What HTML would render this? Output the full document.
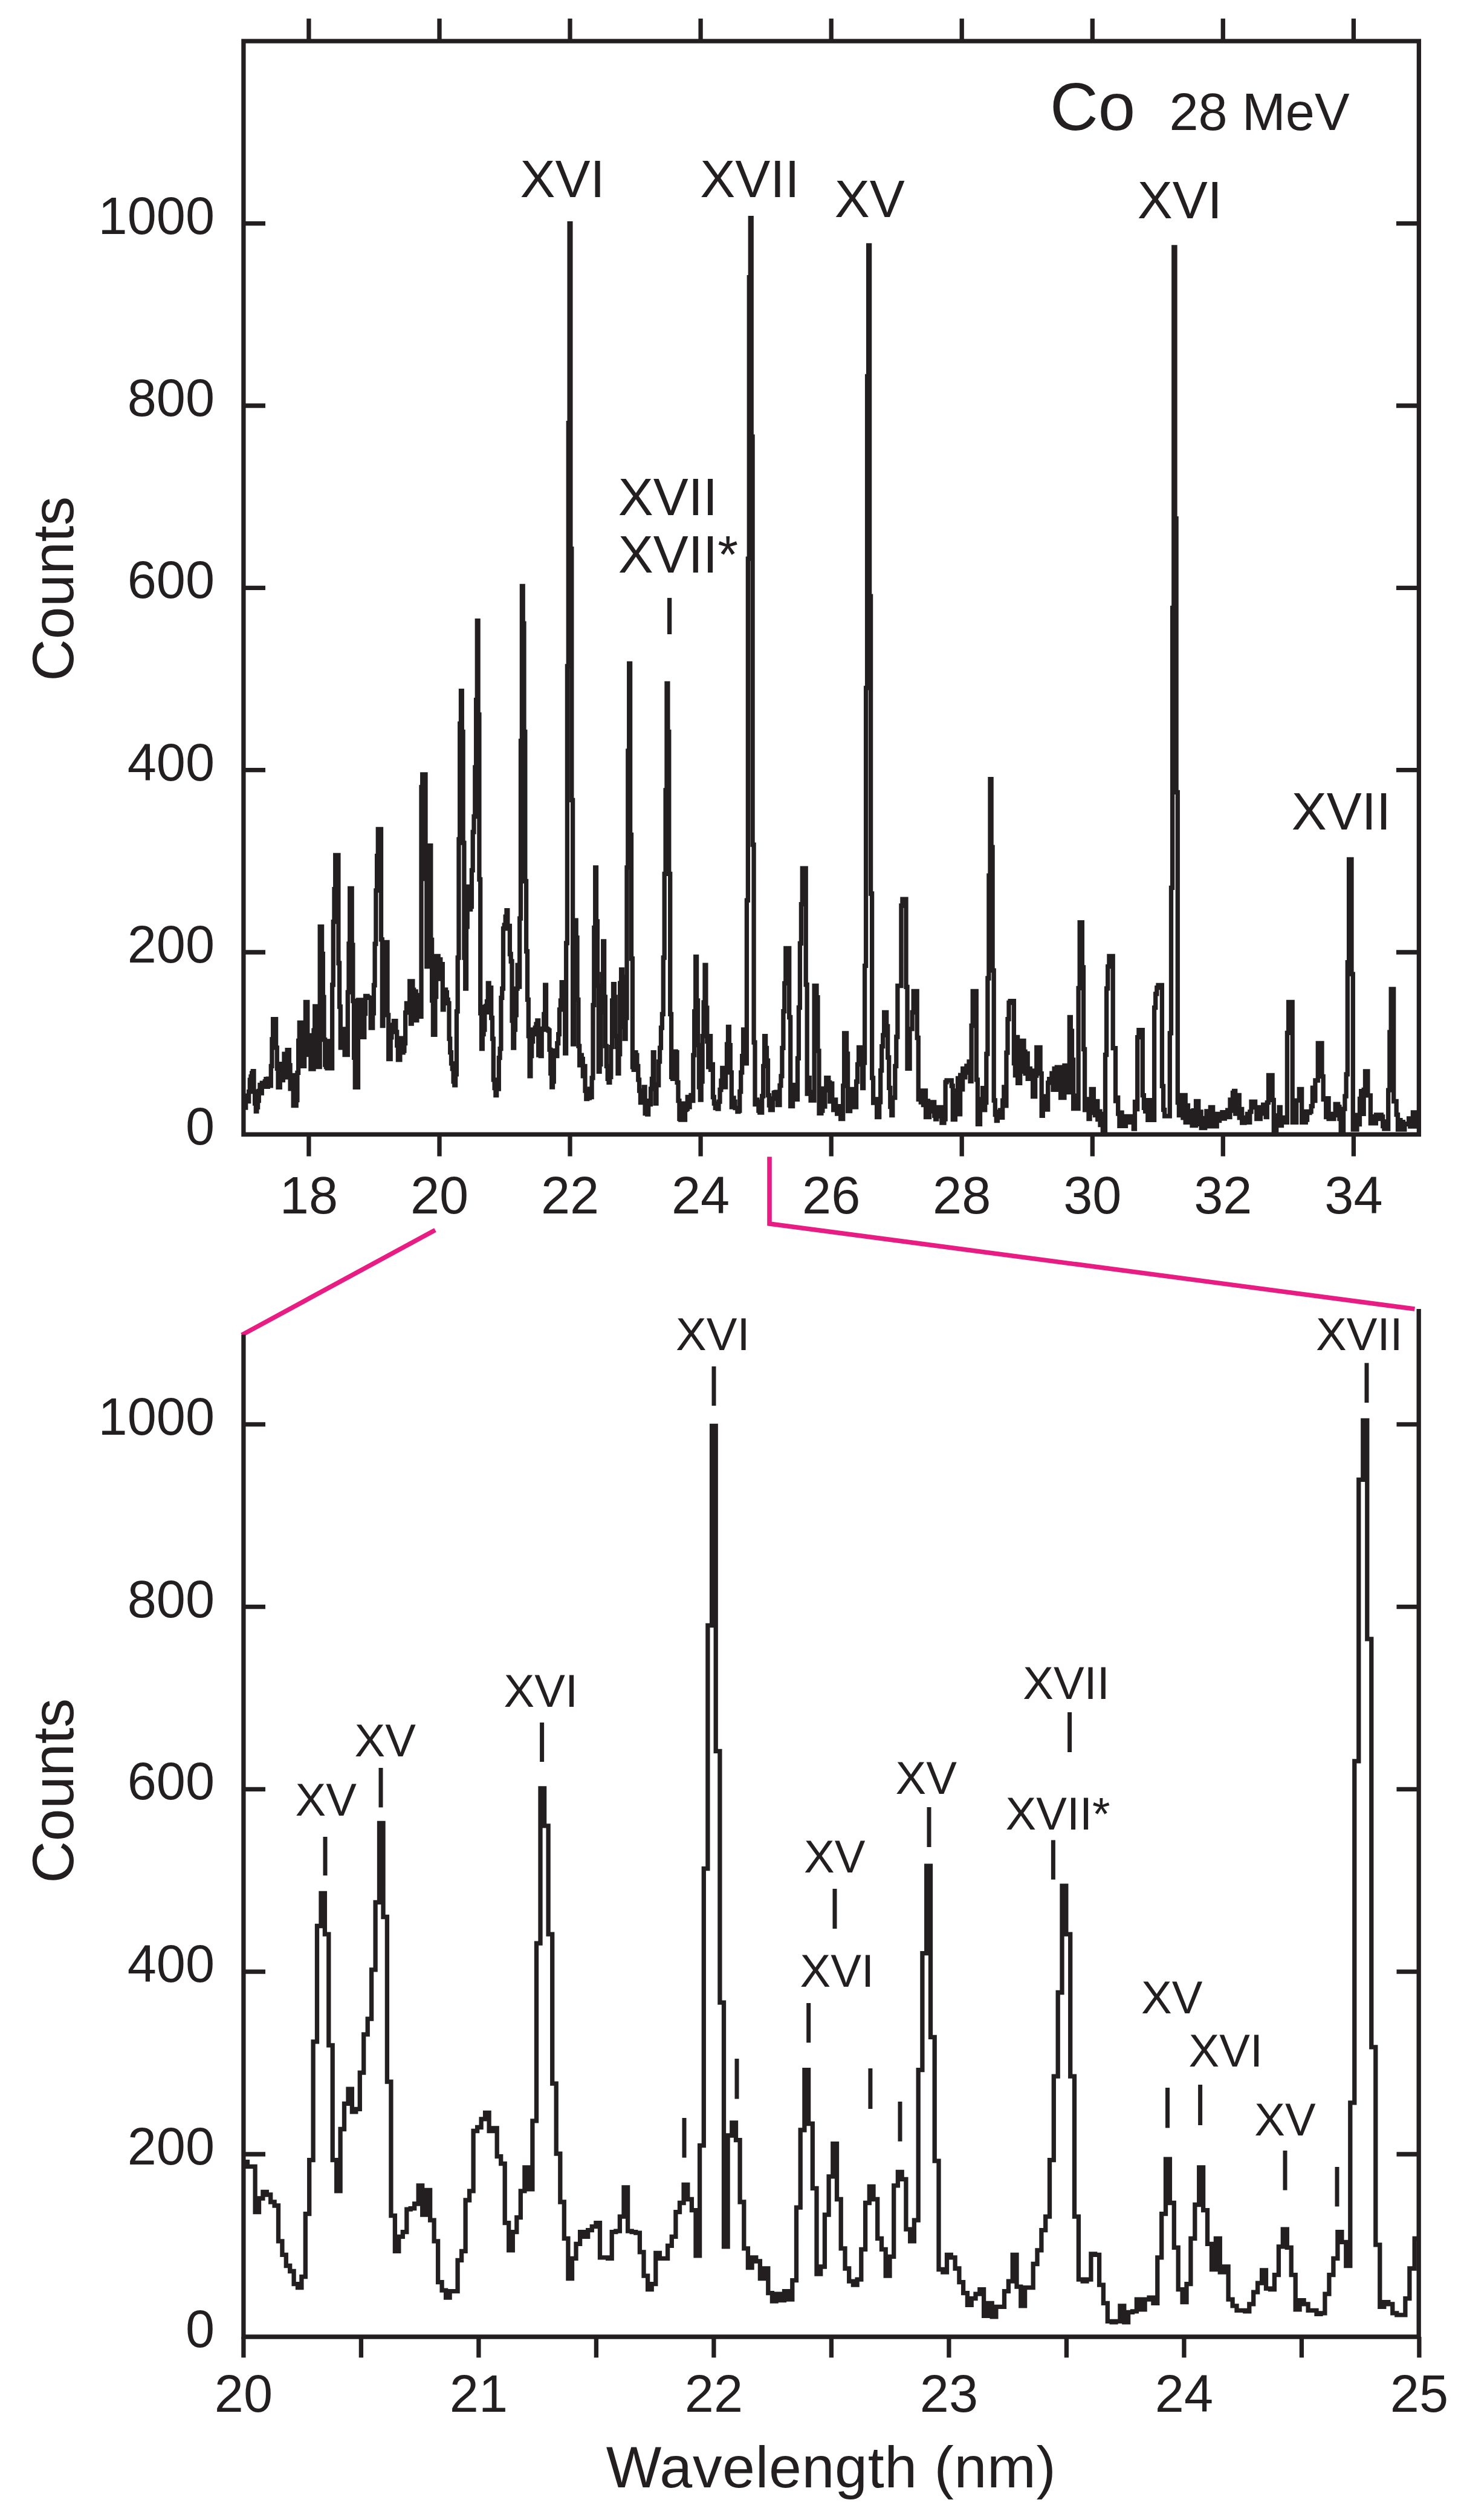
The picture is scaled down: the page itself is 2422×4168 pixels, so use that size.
<!DOCTYPE html>
<html><head><meta charset="utf-8"><title>Co 28 MeV spectrum</title>
<style>html,body{margin:0;padding:0;background:#fff}svg{display:block}text{font-family:'Liberation Sans', Arial, Helvetica, sans-serif;fill:#231f20}</style>
</head><body>
<svg width="2422" height="4168" viewBox="0 0 2422 4168">
<rect width="2422" height="4168" fill="#fff"/>
<rect x="402.9" y="68" width="1944.5" height="1808.3" fill="none" stroke="#231f20" stroke-width="7.3"/>
<line x1="510.9" y1="68" x2="510.9" y2="30.7" stroke="#231f20" stroke-width="7.3" stroke-linecap="butt"/>
<line x1="510.9" y1="1876.3" x2="510.9" y2="1912.5" stroke="#231f20" stroke-width="7.3" stroke-linecap="butt"/>
<text x="510.9" y="2006.8" font-size="86.5" text-anchor="middle">18</text>
<line x1="727" y1="68" x2="727" y2="30.7" stroke="#231f20" stroke-width="7.3" stroke-linecap="butt"/>
<line x1="727" y1="1876.3" x2="727" y2="1912.5" stroke="#231f20" stroke-width="7.3" stroke-linecap="butt"/>
<text x="727" y="2006.8" font-size="86.5" text-anchor="middle">20</text>
<line x1="943" y1="68" x2="943" y2="30.7" stroke="#231f20" stroke-width="7.3" stroke-linecap="butt"/>
<line x1="943" y1="1876.3" x2="943" y2="1912.5" stroke="#231f20" stroke-width="7.3" stroke-linecap="butt"/>
<text x="943" y="2006.8" font-size="86.5" text-anchor="middle">22</text>
<line x1="1159.1" y1="68" x2="1159.1" y2="30.7" stroke="#231f20" stroke-width="7.3" stroke-linecap="butt"/>
<line x1="1159.1" y1="1876.3" x2="1159.1" y2="1912.5" stroke="#231f20" stroke-width="7.3" stroke-linecap="butt"/>
<text x="1159.1" y="2006.8" font-size="86.5" text-anchor="middle">24</text>
<line x1="1375.2" y1="68" x2="1375.2" y2="30.7" stroke="#231f20" stroke-width="7.3" stroke-linecap="butt"/>
<line x1="1375.2" y1="1876.3" x2="1375.2" y2="1912.5" stroke="#231f20" stroke-width="7.3" stroke-linecap="butt"/>
<text x="1375.2" y="2006.8" font-size="86.5" text-anchor="middle">26</text>
<line x1="1591.2" y1="68" x2="1591.2" y2="30.7" stroke="#231f20" stroke-width="7.3" stroke-linecap="butt"/>
<line x1="1591.2" y1="1876.3" x2="1591.2" y2="1912.5" stroke="#231f20" stroke-width="7.3" stroke-linecap="butt"/>
<text x="1591.2" y="2006.8" font-size="86.5" text-anchor="middle">28</text>
<line x1="1807.3" y1="68" x2="1807.3" y2="30.7" stroke="#231f20" stroke-width="7.3" stroke-linecap="butt"/>
<line x1="1807.3" y1="1876.3" x2="1807.3" y2="1912.5" stroke="#231f20" stroke-width="7.3" stroke-linecap="butt"/>
<text x="1807.3" y="2006.8" font-size="86.5" text-anchor="middle">30</text>
<line x1="2023.3" y1="68" x2="2023.3" y2="30.7" stroke="#231f20" stroke-width="7.3" stroke-linecap="butt"/>
<line x1="2023.3" y1="1876.3" x2="2023.3" y2="1912.5" stroke="#231f20" stroke-width="7.3" stroke-linecap="butt"/>
<text x="2023.3" y="2006.8" font-size="86.5" text-anchor="middle">32</text>
<line x1="2239.4" y1="68" x2="2239.4" y2="30.7" stroke="#231f20" stroke-width="7.3" stroke-linecap="butt"/>
<line x1="2239.4" y1="1876.3" x2="2239.4" y2="1912.5" stroke="#231f20" stroke-width="7.3" stroke-linecap="butt"/>
<text x="2239.4" y="2006.8" font-size="86.5" text-anchor="middle">34</text>
<text x="355" y="1893.3" font-size="86.5" text-anchor="end">0</text>
<line x1="402.9" y1="1575" x2="439" y2="1575" stroke="#231f20" stroke-width="7.3" stroke-linecap="butt"/>
<line x1="2347.4" y1="1575" x2="2310" y2="1575" stroke="#231f20" stroke-width="7.3" stroke-linecap="butt"/>
<text x="355" y="1592" font-size="86.5" text-anchor="end">200</text>
<line x1="402.9" y1="1273.7" x2="439" y2="1273.7" stroke="#231f20" stroke-width="7.3" stroke-linecap="butt"/>
<line x1="2347.4" y1="1273.7" x2="2310" y2="1273.7" stroke="#231f20" stroke-width="7.3" stroke-linecap="butt"/>
<text x="355" y="1290.7" font-size="86.5" text-anchor="end">400</text>
<line x1="402.9" y1="972.3" x2="439" y2="972.3" stroke="#231f20" stroke-width="7.3" stroke-linecap="butt"/>
<line x1="2347.4" y1="972.3" x2="2310" y2="972.3" stroke="#231f20" stroke-width="7.3" stroke-linecap="butt"/>
<text x="355" y="989.3" font-size="86.5" text-anchor="end">600</text>
<line x1="402.9" y1="671" x2="439" y2="671" stroke="#231f20" stroke-width="7.3" stroke-linecap="butt"/>
<line x1="2347.4" y1="671" x2="2310" y2="671" stroke="#231f20" stroke-width="7.3" stroke-linecap="butt"/>
<text x="355" y="688" font-size="86.5" text-anchor="end">800</text>
<line x1="402.9" y1="369.7" x2="439" y2="369.7" stroke="#231f20" stroke-width="7.3" stroke-linecap="butt"/>
<line x1="2347.4" y1="369.7" x2="2310" y2="369.7" stroke="#231f20" stroke-width="7.3" stroke-linecap="butt"/>
<text x="355" y="386.7" font-size="86.5" text-anchor="end">1000</text>
<text x="121.4" y="974" font-size="96.5" text-anchor="middle" transform="rotate(-90 121.4 974)">Counts</text>
<path d="M403.4,1832.2H405V1832.2H406.7V1820.4H408.4V1812.2H410V1821.6H411.7V1805.7H413.3V1786.2H415V1780.6H416.6V1775H418.3V1771.7H420V1805.5H421.6V1825H423.3V1838.2H424.9V1831.3H426.6V1820.7H428.3V1804.5H429.9V1794.4H431.6V1808H433.3V1791.2H434.9V1793.6H436.6V1797.3H438.3V1788.6H439.9V1784.6H441.6V1797.3H443.3V1784.1H444.9V1789.7H446.6V1795.9H448.3V1763.4H449.9V1719H451.6V1685.6H453.3V1685.6H454.9V1685.6H456.6V1732.8H458.3V1767.4H460V1798.4H461.6V1798.4H463.3V1779.8H465V1759.6H466.7V1786.5H468.4V1763.7H470V1743.2H471.7V1781.8H473.4V1758.1H475.1V1736.6H476.7V1736.6H478.4V1762H480.1V1800.8H481.8V1791.3H483.5V1778.3H485.2V1828.6H486.8V1828.6H488.5V1828.6H490.2V1819.6H491.9V1774.3H493.6V1721.5H495.3V1691.4H497V1691.4H498.7V1733H500.3V1763.3H502V1763.3H503.7V1697.9H505.4V1657.4H507.1V1657.4H508.8V1744.6H510.5V1712.5H512.2V1736.2H513.9V1768H515.6V1768H517.3V1768H519V1704.1H520.7V1664.5H522.4V1719.2H524.1V1764.5H525.8V1764.5H527.5V1764.5H529.2V1532.6H530.9V1532.6H532.6V1577.6H534.3V1649.1H536V1719.7H537.7V1761.1H539.4V1764.5H541.1V1766.8H542.8V1721.9H544.5V1766.8H546.2V1721.9H547.9V1766.8H549.6V1628.8H551.3V1524.6H553V1470.7H554.7V1414.4H556.4V1414.4H558.1V1414.4H559.9V1593H561.6V1665H563.3V1732.9H565V1732.9H566.7V1701.9H568.4V1716.7H570.1V1744.6H571.8V1744.6H573.6V1744.6H575.3V1641.1H577V1560.8H578.7V1469.4H580.4V1469.4H582.2V1562.8H583.9V1655.5H585.6V1749.4H587.3V1798.4H589V1798.4H590.8V1798.4H592.5V1653.9H594.2V1653.9H595.9V1653.9H597.7V1690.4H599.4V1715.3H601.1V1715.3H602.8V1676.6H604.6V1647.4H606.3V1647.4H608V1649.3H609.7V1650.4H611.5V1650.4H613.2V1700.1H614.9V1700.1H616.7V1675.9H618.4V1629.5H620.1V1561.2H621.9V1472.9H623.6V1415.6H625.3V1371.3H627.1V1371.3H628.8V1371.3H630.5V1553.8H632.3V1696.6H634V1637.3H635.7V1558.4H637.5V1558.4H639.2V1558.4H641V1678.8H642.7V1751.6H644.5V1751.6H646.2V1715.8H647.9V1705.5H649.7V1695.2H651.4V1688.6H653.2V1688.6H654.9V1706.8H656.7V1729.2H658.4V1752.8H660.1V1752.8H661.9V1717.2H663.6V1717.2H665.4V1740.8H667.1V1738H668.9V1725.7H670.6V1674.9H672.4V1659.3H674.1V1659.3H675.9V1659.3H677.7V1622.8H679.4V1693H681.2V1622.8H682.9V1637.1H684.7V1687.7H686.4V1639.9H688.2V1687.7H689.9V1646H691.7V1666H693.5V1681.3H695.2V1681.3H697V1301.8H698.7V1280.9H700.5V1280.9H702.3V1280.9H704V1453.5H705.8V1598.7H707.5V1479.3H709.3V1398.7H711.1V1398.7H712.8V1554.5H714.6V1654.8H716.4V1711.3H718.1V1711.3H719.9V1648.7H721.7V1581.3H723.4V1581.3H725.2V1619H727V1587H728.8V1594.6H730.5V1594.6H732.3V1669.9H734.1V1647.3H735.9V1636.8H737.6V1641.3H739.4V1653.3H741.2V1659.3H743V1718.1H744.7V1740.7H746.5V1758.8H748.3V1767.8H750.1V1788.9H751.8V1794.9H753.6V1776.9H755.4V1672.9H757.2V1584H759V1388.2H760.7V1196.8H762.5V1142.6H764.3V1210.4H766.1V1394.2H767.9V1584H769.7V1635.2H771.5V1532.8H773.2V1490.6H775V1466.5H776.8V1504.2H778.6V1499.7H780.4V1439.4H782.2V1376.1H784V1350.5H785.8V1269.1H787.6V1157.7H789.3V1026.6H791.1V1181.8H792.9V1454.5H794.7V1675.9H796.5V1734.7H798.3V1710.6H800.1V1703H801.9V1665.4H803.7V1663.9H805.5V1656.3H807.3V1626.2H809.1V1674.4H810.9V1633.7H812.7V1683.5H814.5V1718.1H816.3V1785.9H818.1V1799.5H819.9V1811.5H821.7V1801H823.5V1801H825.3V1749.7H827.1V1734.7H828.9V1650.3H830.7V1635.2H832.5V1535.8H834.3V1529.8H836.2V1516.2H838V1505.7H839.8V1535.8H841.6V1531.3H843.4V1578H845.2V1590H847V1688H848.8V1733.2H850.6V1703H852.5V1678.9H854.3V1635.2H856.1V1596.1H857.9V1632.2H859.7V1519.2H861.5V1225.4H863.4V969.3H865.2V1031.1H867V1210.4H868.8V1457.5H870.6V1573.5H872.5V1653.3H874.3V1713.6H876.1V1779.9H877.9V1746.7H879.7V1722.6H881.6V1703H883.4V1710.6H885.2V1700H887V1694H888.9V1688H890.7V1745.2H892.5V1745.2H894.3V1746.7H896.2V1703H898V1701.5H899.8V1677.4H901.7V1629.2H903.5V1701.5H905.3V1703H907.2V1704.5H909V1736.2H910.8V1775.4H912.7V1798H914.5V1788.9H916.3V1737.7H918.2V1746.7H920V1746.7H921.8V1725.6H923.7V1710.6H925.5V1669.9H927.4V1654.8H929.2V1624.7H931V1648.8H932.9V1666.9H934.7V1742.2H936.6V1559.9H938.4V1101.9H940.3V699.6H942.1V369.7H943.9V907.6H945.8V1323.4H947.6V1727.1H949.5V1543.3H951.3V1522.2H953.2V1550.9H955V1653.3H956.9V1730.2H958.7V1761.8H960.6V1745.2H962.4V1751.3H964.3V1779.9H966.1V1763.3H968V1804H969.8V1817.5H971.7V1805.5H973.5V1816H975.4V1801H977.3V1814.5H979.1V1782.9H981V1662.4H982.8V1534.3H984.7V1434.9H986.5V1523.8H988.4V1630.7H990.3V1772.3H992.1V1760.3H994V1674.4H995.8V1611.1H997.7V1556.9H999.6V1648.8H1001.4V1730.2H1003.3V1763.3H1005.2V1784.4H1007V1790.4H1008.9V1781.4H1010.8V1731.7H1012.6V1654.8H1014.5V1627.7H1016.4V1648.8H1018.2V1713.6H1020.1V1731.7H1022V1775.4H1023.9V1743.7H1025.7V1626.2H1027.6V1603.6H1029.5V1615.7H1031.3V1698.5H1033.2V1718.1H1035.1V1683.5H1037V1434.9H1038.8V1242H1040.7V1097.4H1042.6V1380.6H1044.5V1585.5H1046.4V1764.8H1048.2V1769.3H1050.1V1740.7H1052V1745.2H1053.9V1763.3H1055.8V1785.9H1057.6V1804H1059.5V1823.6H1061.4V1813H1063.3V1805.5H1065.2V1798H1067.1V1841.6H1069V1820.6H1070.8V1843.2H1072.7V1826.6H1074.6V1826.6H1076.5V1801H1078.4V1784.4H1080.3V1740.7H1082.2V1793.4H1084.1V1825.1H1086V1794.9H1087.9V1794.9H1089.7V1755.8H1091.6V1733.2H1093.5V1700H1095.4V1677.4H1097.3V1584H1099.2V1445.4H1101.1V1306.8H1103V1130.5H1104.9V1210.4H1106.8V1445.4H1108.7V1677.4H1110.6V1781.4H1112.5V1784.4H1114.4V1781.4H1116.3V1739.2H1118.2V1740.7H1120.1V1790.4H1122V1820.6H1123.9V1850.7H1125.8V1852.2H1127.7V1850.7H1129.6V1825.1H1131.5V1852.2H1133.5V1835.6H1135.4V1834.1H1137.3V1814.5H1139.2V1831.1H1141.1V1814.5H1143V1811.5H1144.9V1820.6H1146.8V1745.2H1148.7V1672.9H1150.7V1582.5H1152.6V1654.8H1154.5V1728.7H1156.4V1798H1158.3V1819H1160.2V1788.9H1162.1V1713.6H1164.1V1657.8H1166V1596.1H1167.9V1666.9H1169.8V1722.6H1171.7V1764.8H1173.7V1713.6H1175.6V1769.3H1177.5V1760.3H1179.4V1814.5H1181.3V1825.1H1183.3V1832.6H1185.2V1832.6H1187.1V1834.1H1189V1822.1H1191V1802.5H1192.9V1787.4H1194.8V1766.3H1196.7V1796.5H1198.7V1798H1200.6V1773.9H1202.5V1727.1H1204.5V1698.5H1206.4V1728.7H1208.3V1773.9H1210.3V1831.1H1212.2V1816H1214.1V1822.1H1216.1V1832.6H1218V1832.6H1219.9V1838.6H1221.9V1837.1H1223.8V1805.5H1225.7V1773.9H1227.7V1746.7H1229.6V1703H1231.6V1719.6H1233.5V1758.8H1235.4V1489.1H1237.4V924.1H1239.3V458.6H1241.3V360.7H1243.2V722.2H1245.1V1397.2H1247.1V1724.1H1249V1826.6H1251V1819H1252.9V1822.1H1254.9V1837.1H1256.8V1840.1H1258.8V1840.1H1260.7V1813H1262.7V1763.3H1264.6V1713.6H1266.6V1733.4H1268.5V1754.2H1270.5V1811.6H1272.4V1828H1274.4V1835.9H1276.3V1835.9H1278.3V1817H1280.2V1807.4H1282.2V1806.6H1284.1V1806.2H1286.1V1827.7H1288.1V1827.7H1290V1795.5H1292V1779.9H1293.9V1733.4H1295.9V1672.6H1297.8V1626.3H1299.8V1568.5H1301.8V1568.5H1303.7V1568.5H1305.7V1682.5H1307.7V1829.6H1309.6V1829.6H1311.6V1794.4H1313.6V1794.4H1315.5V1818.3H1317.5V1818.3H1319.5V1750.3H1321.4V1666.5H1323.4V1560.3H1325.4V1495.7H1327.3V1436.1H1329.3V1436.1H1331.3V1436.1H1333.2V1628.6H1335.2V1809H1337.2V1782.7H1339.2V1806.2H1341.1V1820.2H1343.1V1820.2H1345.1V1820.2H1347.1V1630.5H1349V1630.5H1351V1649.7H1353V1738.2H1355V1841.3H1356.9V1841.3H1358.9V1837.1H1360.9V1800.3H1362.9V1830H1364.9V1803.3H1366.8V1782.7H1368.8V1782.7H1370.8V1790.4H1372.8V1821.9H1374.8V1792.1H1376.8V1819.3H1378.7V1835.9H1380.7V1819H1382.7V1829.6H1384.7V1842.2H1386.7V1829.6H1388.7V1837.2H1390.7V1850.7H1392.7V1850.7H1394.7V1796H1396.6V1709H1398.6V1709H1400.6V1743H1402.6V1837.5H1404.6V1837.5H1406.6V1801.5H1408.6V1801.5H1410.6V1801.5H1412.6V1831.2H1414.6V1831.2H1416.6V1789H1418.6V1760.5H1420.6V1732.4H1422.6V1732.4H1424.6V1732.4H1426.6V1799.6H1428.6V1757.9H1430.6V1597.3H1432.6V1137.8H1434.6V622.3H1436.6V405.9H1438.6V986.2H1440.6V1478H1442.6V1782.8H1444.6V1824.2H1446.6V1821.3H1448.6V1817.9H1450.6V1847.6H1452.6V1847.6H1454.7V1822.9H1456.7V1770.6H1458.7V1730.7H1460.7V1712.1H1462.7V1674.5H1464.7V1674.5H1466.7V1697.5H1468.7V1749H1470.7V1799.4H1472.8V1830.7H1474.8V1844.6H1476.8V1815.5H1478.8V1815.5H1480.8V1763.3H1482.8V1715H1484.9V1630.5H1486.9V1630.5H1488.9V1630.5H1490.9V1498H1492.9V1487.2H1495V1487.2H1497V1487.2H1499V1632.4H1501V1767.3H1503.1V1767.3H1505.1V1701.9H1507.1V1701.9H1509.1V1674.5H1511.2V1639.4H1513.2V1639.4H1515.2V1639.4H1517.2V1716.5H1519.3V1818.3H1521.3V1803.8H1523.3V1823H1525.4V1803.8H1527.4V1827.7H1529.4V1803.8H1531.5V1847.6H1533.5V1820.9H1535.5V1847.6H1537.6V1838.2H1539.6V1831.3H1541.6V1823H1543.7V1823H1545.7V1845.3H1547.7V1851.1H1549.8V1846.4H1551.8V1831.5H1553.9V1831.5H1555.9V1831.5H1557.9V1857H1560V1857H1562V1851.2H1564.1V1789.8H1566.1V1787H1568.1V1787H1570.2V1787H1572.2V1787H1574.3V1796H1576.3V1851.6H1578.4V1851.6H1580.4V1803.8H1582.5V1842.9H1584.5V1783.4H1586.6V1842.9H1588.6V1778.1H1590.7V1801.9H1592.7V1767.5H1594.8V1781.8H1596.8V1767.5H1598.9V1762.8H1600.9V1774.1H1603V1756H1605V1788.4H1607.1V1696.5H1609.2V1639.4H1611.2V1639.4H1613.3V1639.4H1615.3V1785.8H1617.4V1859.3H1619.4V1859.3H1621.5V1817.9H1623.6V1835.9H1625.6V1799.6H1627.7V1835.9H1629.7V1823.6H1631.8V1743.1H1633.9V1618H1635.9V1448.1H1638V1288.7H1640.1V1401.2H1642.1V1605.2H1644.2V1820H1646.3V1843.6H1648.3V1853.5H1650.4V1838.9H1652.5V1848.3H1654.5V1836.1H1656.6V1848.3H1658.7V1820.2H1660.8V1798H1662.8V1828.9H1664.9V1741.2H1667V1685.6H1669V1658.5H1671.1V1655.6H1673.2V1655.6H1675.3V1655.6H1677.4V1758.6H1679.4V1778.5H1681.5V1715.3H1683.6V1791.4H1685.7V1791.4H1687.7V1721.4H1689.8V1772.4H1691.9V1721.4H1694V1739.4H1696.1V1775.7H1698.2V1742.5H1700.2V1784.4H1702.3V1767.5H1704.4V1784.4H1706.5V1771H1708.6V1813.7H1710.7V1813.7H1712.7V1779.2H1714.8V1732.4H1716.9V1732.4H1719V1732.4H1721.1V1775.7H1723.2V1845.3H1725.3V1827.7H1727.4V1835.2H1729.5V1813.2H1731.6V1835.2H1733.7V1790.9H1735.7V1784.6H1737.8V1789.3H1739.9V1775.2H1742V1802.4H1744.1V1767.5H1746.2V1784.7H1748.3V1765.2H1750.4V1802.4H1752.5V1765.2H1754.6V1815.5H1756.7V1789.8H1758.8V1815.5H1760.9V1762.4H1763V1806.6H1765.1V1762.4H1767.2V1806.6H1769.3V1682.5H1771.4V1705.2H1773.5V1752.8H1775.6V1833.6H1777.8V1812.2H1779.9V1821.1H1782V1833.6H1784.1V1634.3H1786.2V1525.6H1788.3V1525.6H1790.4V1599.8H1792.5V1735.3H1794.6V1835.9H1796.7V1823.7H1798.9V1817.9H1801V1850.7H1803.1V1819H1805.2V1801.5H1807.3V1801.5H1809.4V1840.6H1811.5V1844.6H1813.7V1821.4H1815.8V1851.6H1817.9V1838.2H1820V1860.5H1822.1V1842.5H1824.3V1875.9H1826.4V1875.9H1828.5V1744.6H1830.6V1634.9H1832.7V1598.7H1834.9V1581.3H1837V1581.3H1839.1V1581.3H1841.2V1733.6H1843.4V1733.6H1845.5V1821.1H1847.6V1815.5H1849.7V1842.2H1851.9V1862.4H1854V1840.1H1856.1V1862.4H1858.3V1849.5H1860.4V1862.4H1862.5V1846.4H1864.6V1856.3H1866.8V1846.4H1868.9V1856.3H1871V1846.4H1873.2V1853.5H1875.3V1867H1877.5V1822.4H1879.6V1834.7H1881.7V1715.6H1883.9V1703.6H1886V1703.6H1888.1V1703.6H1890.3V1811.7H1892.4V1832.4H1894.6V1838.2H1896.7V1819.7H1898.8V1852.3H1901V1819.7H1903.1V1852.3H1905.3V1834.3H1907.4V1852.3H1909.6V1666.7H1911.7V1643.8H1913.8V1633.7H1916V1629.3H1918.1V1629.3H1920.3V1629.3H1922.4V1796.4H1924.6V1835.6H1926.7V1846H1928.9V1846H1931V1846H1933.2V1846.2H1935.3V1708.8H1937.5V1468.3H1939.6V1005.3H1941.8V408.9H1944V857.6H1946.1V1310.4H1948.3V1823.5H1950.4V1844.6H1952.6V1811.3H1954.7V1844.6H1956.9V1848.8H1959.1V1811.3H1961.2V1856.3H1963.4V1828.4H1965.5V1856.3H1967.7V1838H1969.9V1856.3H1972V1861.7H1974.2V1836.6H1976.4V1861.7H1978.5V1821.4H1980.7V1821.4H1982.8V1859.3H1985V1838.9H1987.2V1865.6H1989.3V1849.5H1991.5V1865.6H1993.7V1862.8H1995.9V1837.8H1998V1862.8H2000.2V1850H2002.4V1831.5H2004.5V1831.5H2006.7V1862.8H2008.9V1842.5H2011.1V1862.8H2013.2V1842.5H2015.4V1853.5H2017.6V1842.5H2019.8V1850H2021.9V1839.6H2024.1V1850H2026.3V1839.6H2028.5V1847.6H2030.7V1836.1H2032.8V1847.6H2035V1819H2037.2V1837.1H2039.4V1807.4H2041.6V1804.3H2043.7V1842.2H2045.9V1842.2H2048.1V1811.3H2050.3V1848.8H2052.5V1834.3H2054.7V1857H2056.9V1857H2059V1848.3H2061.2V1856.3H2063.4V1842.5H2065.6V1856.3H2067.8V1838.9H2070V1822.1H2072.2V1822.1H2074.4V1822.1H2076.6V1831.5H2078.8V1850.7H2081V1831.5H2083.1V1850.7H2085.3V1831.5H2087.5V1841.8H2089.7V1827.2H2091.9V1827.2H2094.1V1847.6H2096.3V1823.7H2098.5V1778.5H2100.7V1778.5H2102.9V1778.5H2105.1V1819.3H2107.3V1875.9H2109.5V1875.9H2111.7V1844.8H2113.9V1861.7H2116.1V1831.5H2118.3V1861.7H2120.5V1848.3H2122.7V1848.8H2125V1856.3H2127.2V1856.3H2129.4V1708.4H2131.6V1657.4H2133.8V1657.4H2136V1657.4H2138.2V1856.3H2140.4V1856.3H2142.6V1856.3H2144.8V1820.2H2147V1820.2H2149.3V1801.5H2151.5V1801.5H2153.7V1856.3H2155.9V1838.5H2158.1V1856.3H2160.3V1852.1H2162.6V1838.5H2164.8V1840.6H2167V1838.5H2169.2V1829.6H2171.4V1799.1H2173.6V1820.7H2175.9V1787H2178.1V1787H2180.3V1725.4H2182.5V1725.4H2184.8V1725.4H2187V1780.4H2189.2V1818.3H2191.4V1816.7H2193.7V1847.6H2195.9V1816.7H2198.1V1850.7H2200.3V1842.5H2202.6V1850.7H2204.8V1850.7H2207V1844.5H2209.2V1826.1H2211.5V1826.1H2213.7V1830.7H2215.9V1850.7H2218.2V1872.2H2220.4V1872.2H2222.6V1834.1H2224.9V1813.2H2227.1V1776.8H2229.3V1591.7H2231.6V1421.3H2233.8V1421.3H2236V1611.1H2238.3V1868H2240.5V1868H2242.8V1868H2245V1844.2H2247.2V1859.7H2249.5V1817.3H2251.7V1804.6H2254V1842.4H2256.2V1802.3H2258.5V1771.8H2260.7V1771.8H2262.9V1811.8H2265.2V1811.8H2267.4V1857.8H2269.7V1857.8H2271.9V1846.6H2274.2V1857.8H2276.4V1843.9H2278.7V1843.9H2280.9V1850.7H2283.2V1843.9H2285.4V1846.9H2287.7V1862.7H2289.9V1867.2H2292.2V1854.9H2294.4V1867.2H2296.7V1803.1H2298.9V1707.2H2301.2V1635.8H2303.4V1635.8H2305.7V1821.5H2308V1821.5H2310.2V1843.6H2312.5V1868H2314.7V1852.7H2317V1868H2319.3V1855.7H2321.5V1868H2323.8V1858.7H2326V1858.7H2328.3V1859.7H2330.6V1849.9H2332.8V1863.2H2335.1V1863.2H2337.4V1839.9H2339.6V1863.2H2341.9V1839.9H2344.2V1839.9H2346.4" fill="none" stroke="#231f20" stroke-width="7.3" stroke-linejoin="miter"/>
<text x="860.5" y="325.5" font-size="87" text-anchor="start">XVI</text>
<text x="1158.3" y="325.5" font-size="87" text-anchor="start">XVII</text>
<text x="1380.8" y="359.3" font-size="87" text-anchor="start">XV</text>
<text x="1022.8" y="852.2" font-size="87" text-anchor="start">XVII</text>
<text x="1022.8" y="946.8" font-size="87" text-anchor="start">XVII*</text>
<line x1="1107.6" y1="988.9" x2="1107.6" y2="1049" stroke="#231f20" stroke-width="7.3" stroke-linecap="butt"/>
<text x="1881.8" y="360.6" font-size="87" text-anchor="start">XVI</text>
<text x="2136.8" y="1371.6" font-size="87" text-anchor="start">XVII</text>
<text x="1737" y="215" font-size="110.5" text-anchor="start">Co</text>
<text x="1934.5" y="214.5" font-size="86.5" text-anchor="start">28 MeV</text>
<line x1="720" y1="2034.5" x2="400" y2="2208" stroke="#e81c82" stroke-width="7.6"/>
<polyline points="1273,1913.2 1273,2024 2340.5,2165" fill="none" stroke="#e81c82" stroke-width="7.6" stroke-linejoin="miter"/>
<polyline points="402.9,2207.5 402.9,3865 2347.2,3865 2347.2,2165" fill="none" stroke="#231f20" stroke-width="7.3" stroke-linejoin="miter"/>
<line x1="402.9" y1="3865" x2="402.9" y2="3899.4" stroke="#231f20" stroke-width="7.3" stroke-linecap="butt"/>
<text x="402.9" y="3988.5" font-size="86.5" text-anchor="middle">20</text>
<line x1="597.4" y1="3865" x2="597.4" y2="3899.4" stroke="#231f20" stroke-width="7.3" stroke-linecap="butt"/>
<line x1="791.9" y1="3865" x2="791.9" y2="3899.4" stroke="#231f20" stroke-width="7.3" stroke-linecap="butt"/>
<text x="791.9" y="3988.5" font-size="86.5" text-anchor="middle">21</text>
<line x1="986.4" y1="3865" x2="986.4" y2="3899.4" stroke="#231f20" stroke-width="7.3" stroke-linecap="butt"/>
<line x1="1180.9" y1="3865" x2="1180.9" y2="3899.4" stroke="#231f20" stroke-width="7.3" stroke-linecap="butt"/>
<text x="1180.9" y="3988.5" font-size="86.5" text-anchor="middle">22</text>
<line x1="1375.4" y1="3865" x2="1375.4" y2="3899.4" stroke="#231f20" stroke-width="7.3" stroke-linecap="butt"/>
<line x1="1569.9" y1="3865" x2="1569.9" y2="3899.4" stroke="#231f20" stroke-width="7.3" stroke-linecap="butt"/>
<text x="1569.9" y="3988.5" font-size="86.5" text-anchor="middle">23</text>
<line x1="1764.4" y1="3865" x2="1764.4" y2="3899.4" stroke="#231f20" stroke-width="7.3" stroke-linecap="butt"/>
<line x1="1958.9" y1="3865" x2="1958.9" y2="3899.4" stroke="#231f20" stroke-width="7.3" stroke-linecap="butt"/>
<text x="1958.9" y="3988.5" font-size="86.5" text-anchor="middle">24</text>
<line x1="2153.4" y1="3865" x2="2153.4" y2="3899.4" stroke="#231f20" stroke-width="7.3" stroke-linecap="butt"/>
<line x1="2347.9" y1="3865" x2="2347.9" y2="3899.4" stroke="#231f20" stroke-width="7.3" stroke-linecap="butt"/>
<text x="2347.9" y="3988.5" font-size="86.5" text-anchor="middle">25</text>
<text x="355" y="3881.8" font-size="86.5" text-anchor="end">0</text>
<line x1="402.9" y1="3563" x2="439" y2="3563" stroke="#231f20" stroke-width="7.3" stroke-linecap="butt"/>
<line x1="2347.2" y1="3563" x2="2310.5" y2="3563" stroke="#231f20" stroke-width="7.3" stroke-linecap="butt"/>
<text x="355" y="3580" font-size="86.5" text-anchor="end">200</text>
<line x1="402.9" y1="3261.2" x2="439" y2="3261.2" stroke="#231f20" stroke-width="7.3" stroke-linecap="butt"/>
<line x1="2347.2" y1="3261.2" x2="2310.5" y2="3261.2" stroke="#231f20" stroke-width="7.3" stroke-linecap="butt"/>
<text x="355" y="3278.2" font-size="86.5" text-anchor="end">400</text>
<line x1="402.9" y1="2959.4" x2="439" y2="2959.4" stroke="#231f20" stroke-width="7.3" stroke-linecap="butt"/>
<line x1="2347.2" y1="2959.4" x2="2310.5" y2="2959.4" stroke="#231f20" stroke-width="7.3" stroke-linecap="butt"/>
<text x="355" y="2976.4" font-size="86.5" text-anchor="end">600</text>
<line x1="402.9" y1="2657.6" x2="439" y2="2657.6" stroke="#231f20" stroke-width="7.3" stroke-linecap="butt"/>
<line x1="2347.2" y1="2657.6" x2="2310.5" y2="2657.6" stroke="#231f20" stroke-width="7.3" stroke-linecap="butt"/>
<text x="355" y="2674.6" font-size="86.5" text-anchor="end">800</text>
<line x1="402.9" y1="2355.8" x2="439" y2="2355.8" stroke="#231f20" stroke-width="7.3" stroke-linecap="butt"/>
<line x1="2347.2" y1="2355.8" x2="2310.5" y2="2355.8" stroke="#231f20" stroke-width="7.3" stroke-linecap="butt"/>
<text x="355" y="2372.8" font-size="86.5" text-anchor="end">1000</text>
<text x="121.4" y="2962" font-size="96.5" text-anchor="middle" transform="rotate(-90 121.4 2962)">Counts</text>
<text x="1375.1" y="4114" font-size="97" text-anchor="middle" letter-spacing="0.65">Wavelength (nm)</text>
<path d="M402.9,3575.7H409.4V3583.3H415.8V3583.3H422.1V3658.6H428.5V3636H434.9V3625.5H441.3V3630H447.7V3642H454.1V3648H460.5V3706.8H466.9V3729.4H473.3V3747.5H479.7V3756.5H486.1V3777.6H492.5V3783.6H498.9V3765.6H505.3V3661.6H511.7V3572.7H518.1V3376.9H524.5V3185.5H531V3131.3H537.4V3199.1H543.8V3382.9H550.2V3572.7H556.7V3623.9H563.1V3521.5H569.5V3479.3H576V3455.2H582.4V3492.9H588.8V3488.3H595.3V3428.1H601.7V3364.8H608.2V3339.2H614.6V3257.8H621.1V3146.4H627.5V3015.3H634V3170.5H640.4V3443.2H646.9V3664.6H653.4V3723.4H659.8V3699.3H666.3V3691.7H672.8V3654.1H679.2V3652.6H685.7V3645H692.2V3614.9H698.7V3663.1H705.1V3622.4H711.6V3672.2H718.1V3706.8H724.6V3774.6H731.1V3788.2H737.6V3800.2H744.1V3789.7H750.6V3789.7H757.1V3738.4H763.6V3723.4H770.1V3639H776.6V3623.9H783.1V3524.5H789.6V3518.5H796.1V3504.9H802.6V3494.4H809.1V3524.5H815.6V3520H822.2V3566.7H828.7V3578.7H835.2V3676.7H841.7V3721.9H848.3V3691.7H854.8V3667.6H861.3V3623.9H867.9V3584.8H874.4V3620.9H880.9V3507.9H887.5V3214.1H894V2958H900.6V3019.8H907.1V3199.1H913.7V3446.2H920.2V3562.2H926.8V3642H933.3V3702.3H939.9V3768.6H946.5V3735.4H953V3711.3H959.6V3691.7H966.2V3699.3H972.7V3688.7H979.3V3682.7H985.9V3676.7H992.5V3733.9H999V3733.9H1005.6V3735.4H1012.2V3691.7H1018.8V3690.2H1025.4V3666.1H1032V3617.9H1038.6V3690.2H1045.2V3691.7H1051.8V3693.2H1058.4V3724.9H1065V3764.1H1071.6V3786.7H1078.2V3777.6H1084.8V3726.4H1091.4V3735.4H1098V3735.4H1104.6V3714.3H1111.3V3699.3H1117.9V3658.6H1124.5V3643.5H1131.1V3613.4H1137.8V3637.5H1144.4V3655.6H1151V3730.9H1157.6V3548.6H1164.3V3090.6H1170.9V2688.3H1177.6V2358.4H1184.2V2896.3H1190.9V3312.1H1197.5V3715.8H1204.1V3532H1210.8V3510.9H1217.5V3539.6H1224.1V3642H1230.8V3718.9H1237.4V3750.5H1244.1V3733.9H1250.8V3740H1257.4V3768.6H1264.1V3752H1270.8V3792.7H1277.4V3806.2H1284.1V3794.2H1290.8V3804.7H1297.5V3789.7H1304.2V3803.2H1310.8V3771.6H1317.5V3651.1H1324.2V3523H1330.9V3423.6H1337.6V3512.5H1344.3V3619.4H1351V3761H1357.7V3749H1364.4V3663.1H1371.1V3599.8H1377.8V3545.6H1384.5V3637.5H1391.2V3718.9H1398V3752H1404.7V3773.1H1411.4V3779.1H1418.1V3770.1H1424.8V3720.4H1431.6V3643.5H1438.3V3616.4H1445V3637.5H1451.7V3702.3H1458.5V3720.4H1465.2V3764.1H1472V3732.4H1478.7V3614.9H1485.4V3592.3H1492.2V3604.4H1498.9V3687.2H1505.7V3706.8H1512.4V3672.2H1519.2V3423.6H1525.9V3230.7H1532.7V3086.1H1539.5V3369.3H1546.2V3574.2H1553V3753.5H1559.8V3758H1566.5V3729.4H1573.3V3733.9H1580.1V3752H1586.9V3774.6H1593.6V3792.7H1600.4V3812.3H1607.2V3801.7H1614V3794.2H1620.8V3786.7H1627.6V3830.3H1634.4V3809.3H1641.2V3831.9H1647.9V3815.3H1654.7V3815.3H1661.5V3789.7H1668.4V3773.1H1675.2V3729.4H1682V3782.1H1688.8V3813.8H1695.6V3783.6H1702.4V3783.6H1709.2V3744.5H1716V3721.9H1722.9V3688.7H1729.7V3666.1H1736.5V3572.7H1743.3V3434.1H1750.2V3295.5H1757V3119.2H1763.8V3199.1H1770.7V3434.1H1777.5V3666.1H1784.4V3770.1H1791.2V3773.1H1798V3770.1H1804.9V3727.9H1811.7V3729.4H1818.6V3779.1H1825.4V3809.3H1832.3V3839.4H1839.2V3840.9H1846V3839.4H1852.9V3813.8H1859.8V3840.9H1866.6V3824.3H1873.5V3822.8H1880.4V3803.2H1887.2V3819.8H1894.1V3803.2H1901V3800.2H1907.9V3809.3H1914.8V3733.9H1921.7V3661.6H1928.5V3571.2H1935.4V3643.5H1942.3V3717.4H1949.2V3786.7H1956.1V3807.7H1963V3777.6H1969.9V3702.3H1976.8V3646.5H1983.7V3584.8H1990.6V3655.6H1997.5V3711.3H2004.5V3753.5H2011.4V3702.3H2018.3V3758H2025.2V3749H2032.1V3803.2H2039.1V3813.8H2046V3821.3H2052.9V3821.3H2059.8V3822.8H2066.8V3810.8H2073.7V3791.2H2080.6V3776.1H2087.6V3755H2094.5V3785.2H2101.5V3786.7H2108.4V3762.6H2115.4V3715.8H2122.3V3687.2H2129.3V3717.4H2136.2V3762.6H2143.2V3819.8H2150.1V3804.7H2157.1V3810.8H2164.1V3821.3H2171V3821.3H2178V3827.3H2185V3825.8H2191.9V3794.2H2198.9V3762.6H2205.9V3735.4H2212.9V3691.7H2219.9V3708.3H2226.8V3747.5H2233.8V3477.8H2240.8V2912.8H2247.8V2447.3H2254.8V2349.4H2261.8V2710.9H2268.8V3385.9H2275.8V3712.8H2282.8V3815.3H2289.8V3807.7H2296.8V3810.8H2303.8V3825.8H2310.8V3828.8H2317.8V3828.8H2324.9V3801.7H2331.9V3752H2340.2V3702.3H2347.2" fill="none" stroke="#231f20" stroke-width="7.3" stroke-linejoin="miter"/>
<text x="1118.1" y="2232.8" font-size="76" text-anchor="start">XVI</text>
<text x="2177" y="2232.8" font-size="76" text-anchor="start">XVII</text>
<text x="488.5" y="3003" font-size="76" text-anchor="start">XV</text>
<text x="586.5" y="2905.4" font-size="76" text-anchor="start">XV</text>
<text x="833.5" y="2822.6" font-size="76" text-anchor="start">XVI</text>
<text x="1330.1" y="3096.6" font-size="76" text-anchor="start">XV</text>
<text x="1323.5" y="3285.6" font-size="76" text-anchor="start">XVI</text>
<text x="1481.5" y="2966.6" font-size="76" text-anchor="start">XV</text>
<text x="1692.2" y="2809.6" font-size="76" text-anchor="start">XVII</text>
<text x="1663.5" y="3026" font-size="76" text-anchor="start">XVII*</text>
<text x="1888.1" y="3330" font-size="76" text-anchor="start">XV</text>
<text x="1966.5" y="3418.3" font-size="76" text-anchor="start">XVI</text>
<text x="2075.2" y="3532.4" font-size="76" text-anchor="start">XV</text>
<line x1="1181" y1="2260" x2="1181" y2="2325" stroke="#231f20" stroke-width="7.0" stroke-linecap="butt"/>
<line x1="2261" y1="2254.3" x2="2261" y2="2320" stroke="#231f20" stroke-width="7.0" stroke-linecap="butt"/>
<line x1="538" y1="3038" x2="538" y2="3102" stroke="#231f20" stroke-width="7.0" stroke-linecap="butt"/>
<line x1="630" y1="2924" x2="630" y2="2989.4" stroke="#231f20" stroke-width="7.0" stroke-linecap="butt"/>
<line x1="896.6" y1="2849" x2="896.6" y2="2914" stroke="#231f20" stroke-width="7.0" stroke-linecap="butt"/>
<line x1="1381" y1="3124" x2="1381" y2="3190" stroke="#231f20" stroke-width="7.0" stroke-linecap="butt"/>
<line x1="1337.7" y1="3313" x2="1337.7" y2="3378.5" stroke="#231f20" stroke-width="7.0" stroke-linecap="butt"/>
<line x1="1537" y1="2989" x2="1537" y2="3055" stroke="#231f20" stroke-width="7.0" stroke-linecap="butt"/>
<line x1="1769.6" y1="2832" x2="1769.6" y2="2898" stroke="#231f20" stroke-width="7.0" stroke-linecap="butt"/>
<line x1="1742.4" y1="3043.5" x2="1742.4" y2="3108.7" stroke="#231f20" stroke-width="7.0" stroke-linecap="butt"/>
<line x1="1931.5" y1="3453" x2="1931.5" y2="3519.5" stroke="#231f20" stroke-width="7.0" stroke-linecap="butt"/>
<line x1="1985.6" y1="3448" x2="1985.6" y2="3515" stroke="#231f20" stroke-width="7.0" stroke-linecap="butt"/>
<line x1="2126" y1="3557" x2="2126" y2="3622.5" stroke="#231f20" stroke-width="7.0" stroke-linecap="butt"/>
<line x1="1132" y1="3503" x2="1132" y2="3568.7" stroke="#231f20" stroke-width="7.0" stroke-linecap="butt"/>
<line x1="1219" y1="3405" x2="1219" y2="3471.5" stroke="#231f20" stroke-width="7.0" stroke-linecap="butt"/>
<line x1="1439.9" y1="3421" x2="1439.9" y2="3488" stroke="#231f20" stroke-width="7.0" stroke-linecap="butt"/>
<line x1="1489" y1="3476" x2="1489" y2="3541.8" stroke="#231f20" stroke-width="7.0" stroke-linecap="butt"/>
<line x1="2212" y1="3584" x2="2212" y2="3649.5" stroke="#231f20" stroke-width="7.0" stroke-linecap="butt"/>
</svg>
</body></html>
